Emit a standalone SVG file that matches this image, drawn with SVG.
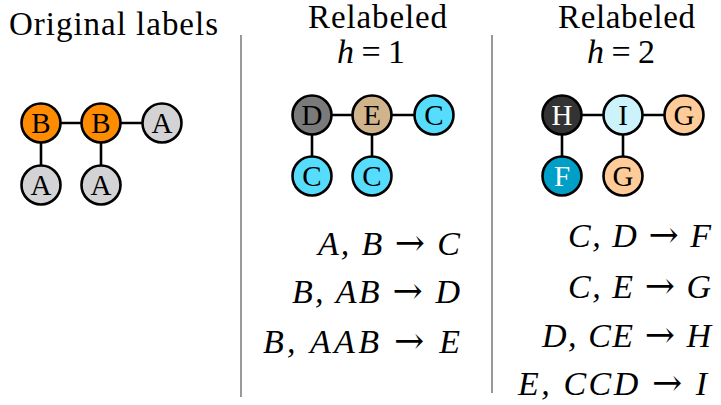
<svg xmlns="http://www.w3.org/2000/svg" width="721" height="405" viewBox="0 0 721 405">
  <style>
    .title { font-family: "Liberation Serif", "DejaVu Serif", serif; fill: #000; }
    .math { font-family: "Liberation Serif", "DejaVu Serif", serif; font-style: italic; font-size: 34px; fill: #000; }
    .up { font-style: normal; }
    .arr { font-style: normal; font-family: "DejaVu Serif", serif; font-size: 36px; }
    .edge { stroke: #000; stroke-width: 2.6; }
    .node circle { stroke: #000; stroke-width: 2.6; }
    .node text { font-family: "Liberation Serif", "DejaVu Serif", serif; font-size: 29px; text-anchor: middle; fill: #000; }
    .sep { stroke: #555; stroke-width: 1.2; }
    .orange { fill: #FF8C00; }
    .lgray { fill: #D3D3D6; }
    .dgray { fill: #7A7A7A; }
    .tan { fill: #D2B48C; }
    .cyan { fill: #56DCFC; }
    .dark { fill: #333333; }
    .pale { fill: #CCF2FB; }
    .peach { fill: #FFCC99; }
    .teal { fill: #009FC8; }
    .node text.light { fill: #fff; }
  </style>

  <!-- column headings -->
  <text class="title" x="9" y="35" font-size="33" textLength="209" lengthAdjust="spacing">Original labels</text>
  <text class="title" x="308" y="28" font-size="33" textLength="139" lengthAdjust="spacing">Relabeled</text>
  <text class="math" x="337" y="63" font-size="29" textLength="68" lengthAdjust="spacing">h<tspan class="up"> = 1</tspan></text>
  <text class="title" x="558" y="28" font-size="33" textLength="137" lengthAdjust="spacing">Relabeled</text>
  <text class="math" x="587" y="63" font-size="29" textLength="68" lengthAdjust="spacing">h<tspan class="up"> = 2</tspan></text>

  <!-- column separators -->
  <line class="sep" x1="241" y1="35" x2="241" y2="397"/>
  <line class="sep" x1="492" y1="35" x2="492" y2="393"/>

  <!-- connectors -->
  <g id="edges">
    <line class="edge" x1="41" y1="123" x2="162" y2="123"/>
    <line class="edge" x1="41" y1="123" x2="41" y2="185"/>
    <line class="edge" x1="101" y1="123" x2="101" y2="185"/>

    <line class="edge" x1="312" y1="115" x2="434" y2="115"/>
    <line class="edge" x1="312" y1="115" x2="312" y2="176"/>
    <line class="edge" x1="372" y1="115" x2="372" y2="176"/>

    <line class="edge" x1="562" y1="115" x2="684" y2="115"/>
    <line class="edge" x1="562" y1="115" x2="562" y2="176"/>
    <line class="edge" x1="623" y1="115" x2="623" y2="176"/>
  </g>

  <!-- original graph -->
  <g id="o1" class="node"><circle class="orange" cx="41" cy="123" r="19.5"/><text x="41" y="133">B</text></g>
  <g id="o2" class="node"><circle class="orange" cx="101" cy="123" r="19.5"/><text x="101" y="133">B</text></g>
  <g id="o3" class="node"><circle class="lgray" cx="162" cy="123" r="19.5"/><text x="162" y="133">A</text></g>
  <g id="o4" class="node"><circle class="lgray" cx="41" cy="185" r="19.5"/><text x="41" y="195">A</text></g>
  <g id="o5" class="node"><circle class="lgray" cx="101" cy="185" r="19.5"/><text x="101" y="195">A</text></g>

  <!-- relabeled, h = 1 -->
  <g id="a1" class="node"><circle class="dgray" cx="312" cy="115" r="19.5"/><text x="312" y="125">D</text></g>
  <g id="a2" class="node"><circle class="tan" cx="372" cy="115" r="19.5"/><text x="372" y="125">E</text></g>
  <g id="a3" class="node"><circle class="cyan" cx="434" cy="115" r="19.5"/><text x="434" y="125">C</text></g>
  <g id="a4" class="node"><circle class="cyan" cx="312" cy="176" r="19.5"/><text x="312" y="186">C</text></g>
  <g id="a5" class="node"><circle class="cyan" cx="372" cy="176" r="19.5"/><text x="372" y="186">C</text></g>

  <!-- relabeled, h = 2 -->
  <g id="b1" class="node"><circle class="dark" cx="562" cy="115" r="19.5"/><text class="light" x="562" y="125">H</text></g>
  <g id="b2" class="node"><circle class="pale" cx="623" cy="115" r="19.5"/><text x="623" y="125">I</text></g>
  <g id="b3" class="node"><circle class="peach" cx="684" cy="115" r="19.5"/><text x="684" y="125">G</text></g>
  <g id="b4" class="node"><circle class="teal" cx="562" cy="176" r="19.5"/><text class="light" x="562" y="186">F</text></g>
  <g id="b5" class="node"><circle class="peach" cx="623" cy="176" r="19.5"/><text x="623" y="186">G</text></g>

  <!-- relabeling rules, h = 1 -->
  <text class="math" x="318" y="255" textLength="142" lengthAdjust="spacing">A, B <tspan class="arr">→</tspan> C</text>
  <text class="math" x="292" y="303" textLength="168" lengthAdjust="spacing">B, AB <tspan class="arr">→</tspan> D</text>
  <text class="math" x="263" y="353" textLength="197" lengthAdjust="spacing">B, AAB <tspan class="arr">→</tspan> E</text>

  <!-- relabeling rules, h = 2 -->
  <text class="math" x="568" y="247" textLength="143" lengthAdjust="spacing">C, D <tspan class="arr">→</tspan> F</text>
  <text class="math" x="568" y="298" textLength="143" lengthAdjust="spacing">C, E <tspan class="arr">→</tspan> G</text>
  <text class="math" x="542" y="347" textLength="169" lengthAdjust="spacing">D, CE <tspan class="arr">→</tspan> H</text>
  <text class="math" x="518" y="395" textLength="189" lengthAdjust="spacing">E, CCD <tspan class="arr">→</tspan> I</text>
</svg>
